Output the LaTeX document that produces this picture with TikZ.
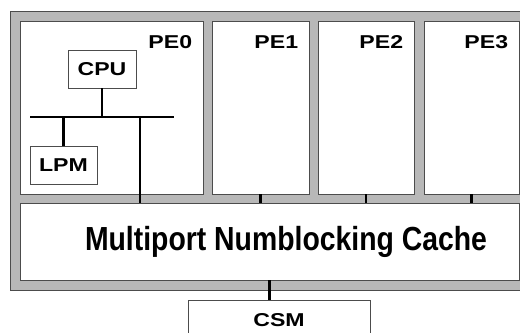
\documentclass[tikz,border=0pt]{standalone}
\usepackage{fontspec}
\setmainfont{Liberation Sans}
\newfontfamily\narrowfont[FakeStretch=0.85]{Liberation Sans}
\newfontfamily\widefont[FakeStretch=1.24]{Liberation Sans}
\usetikzlibrary{fit}

\begin{document}
\begin{tikzpicture}[x=0.02cm, y=-0.02cm,
    box/.style={draw=black!70, line width=0.5pt, fill=white, inner sep=0pt},
    lbl/.style={font=\widefont\fontsize{10.6}{13}\selectfont\bfseries, inner sep=0pt},
    wire/.style={line width=1.6pt, black}]
                \clip (0,0) rectangle (520,333);

                % Frame
                \draw[black!70, line width=0.5pt, fill=black!28] (10,11) rectangle (530,290);

                % Cache
                \node[box, fit={(20,203) (519,280)}] (cache) {};
                \node[font=\narrowfont\fontsize{19}{22}\selectfont\bfseries, inner sep=0pt] (cachetext)
                    at ([xshift=0.33cm]cache.center) {Multiport Numblocking Cache};

                % PE0
                \node[box, fit={(20,21) (203,194)}] (pe0) {};
                \node[lbl, anchor=north east] (pe0lbl) at ([xshift=-0.22cm, yshift=-0.3cm]pe0.north east) {PE0};
                \node[box, fit={(68,50) (136,88)}] (cpu) {};
                \node[lbl] (cpulbl) at (cpu.center) {CPU};
                \node[box, fit={(30,146) (97,184)}] (lpm) {};
                \node[lbl] (lpmlbl) at (lpm.center) {LPM};
                \coordinate (busL) at (30,117);
                \coordinate (busR) at (174,117);
                \coordinate (drop) at (140,117);
                \draw[wire] (busL) -- (busR);
                \draw[wire] (cpu.south) -- (cpu.south |- busL);
                \draw[wire] (lpm.north) -- (lpm.north |- busL);
                \draw[wire] (drop) -- (drop |- cache.north);

                % PE1 - PE3
                \foreach \i/\l/\r in {1/212/309, 2/318/414, 3/424/519} {
                    \node[box, fit={(\l,21) (\r,194)}] (pe\i) {};
                    \node[lbl, anchor=north east] (pe\i lbl) at ([xshift=-0.22cm, yshift=-0.3cm]pe\i.north east) {PE\i};
                    \draw[wire] (pe\i.south) -- (pe\i.south |- cache.north);
                }

                % CSM
                \node[box, fit={(188,300) (370,340)}] (csm) {};
                \node[lbl] (csmlbl) at (csm.center) {CSM};
                \draw[wire] (cache.south) -- (cache.south |- csm.north);
            \end{tikzpicture}
\end{document}
